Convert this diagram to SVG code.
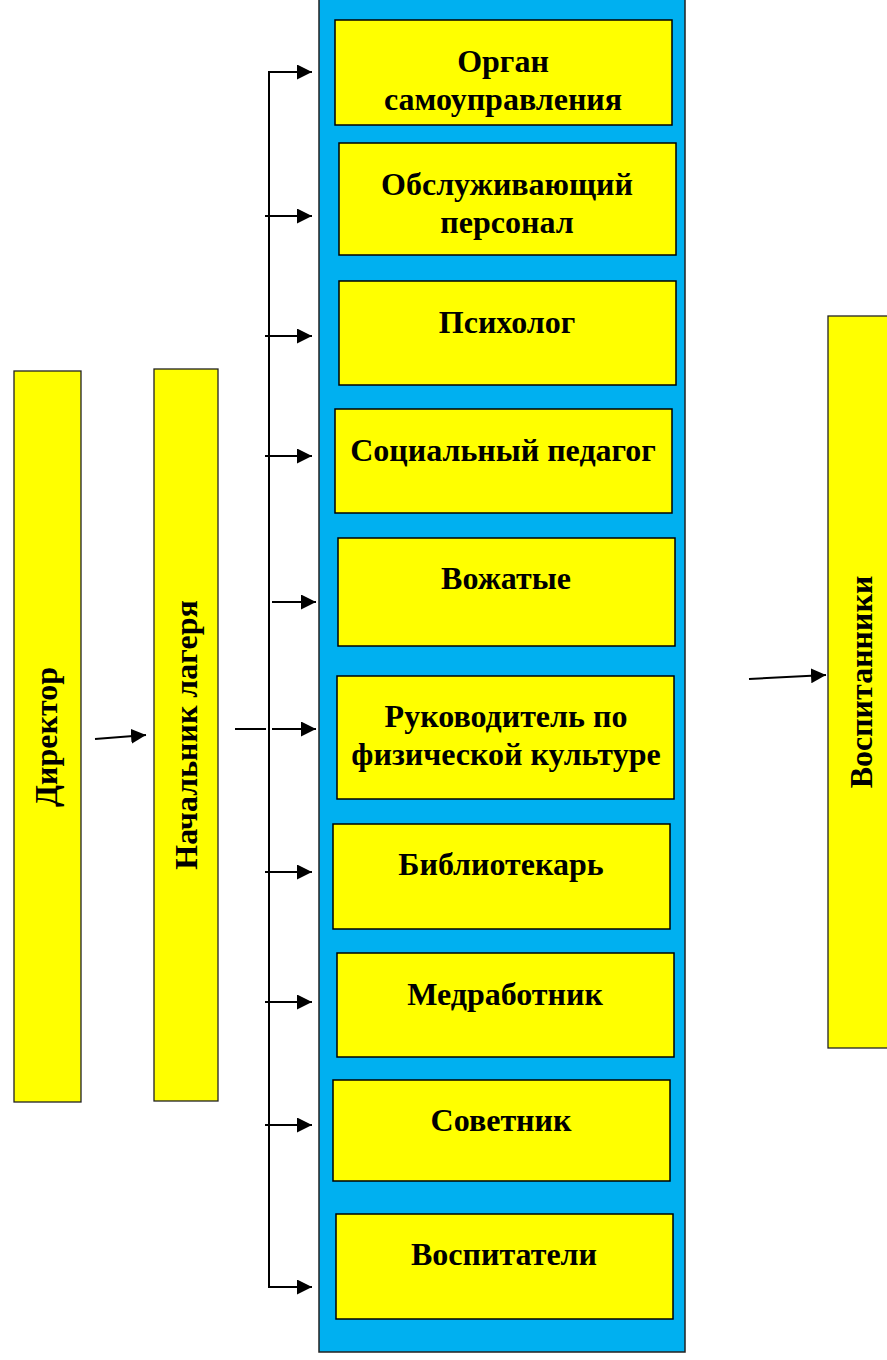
<svg xmlns="http://www.w3.org/2000/svg" width="887" height="1360" viewBox="0 0 887 1360">
<style>
.box{fill:#FFFF00;stroke:#000;stroke-width:1.5}
.side{fill:#FFFF00;stroke:#222;stroke-width:1.3}
.t{font-family:"Liberation Serif","Times New Roman",serif;font-weight:bold;font-size:32px;fill:#000;text-anchor:middle}
.c{stroke:#000;stroke-width:2;fill:none}
</style>
<defs>
<marker id="ah" viewBox="0 0 10 10" refX="10" refY="5" markerWidth="7.5" markerHeight="7.5" markerUnits="strokeWidth" orient="auto">
<path d="M0,0 L10,5 L0,10 z" fill="#000"/>
</marker>
</defs>
<rect width="887" height="1360" fill="#fff"/>
<g id="panel"><rect x="319" y="-5" width="366" height="1357" fill="#00B0F0" stroke="#222" stroke-width="1.5"/></g>
<g id="director"><rect class="side" x="14" y="371" width="67" height="731"/><text class="t" transform="translate(57,737) rotate(-90)">Директор</text></g>
<g id="head"><rect class="side" x="154" y="369" width="64" height="732"/><text class="t" transform="translate(197,735) rotate(-90)">Начальник лагеря</text></g>
<g id="pupils"><rect class="side" x="828" y="316" width="70" height="732"/><text class="t" transform="translate(872,682) rotate(-90)">Воспитанники</text></g>
<g id="n1"><rect class="box" x="335" y="20" width="337" height="105"/><text class="t" x="503" y="72">Орган</text><text class="t" x="503" y="110">самоуправления</text></g>
<g id="n2"><rect class="box" x="339" y="143" width="337" height="112"/><text class="t" x="507" y="195">Обслуживающий</text><text class="t" x="507" y="233">персонал</text></g>
<g id="n3"><rect class="box" x="339" y="281" width="337" height="104"/><text class="t" x="507" y="333">Психолог</text></g>
<g id="n4"><rect class="box" x="335" y="409" width="337" height="104"/><text class="t" x="503" y="461">Социальный педагог</text></g>
<g id="n5"><rect class="box" x="338" y="538" width="337" height="108"/><text class="t" x="506" y="589">Вожатые</text></g>
<g id="n6"><rect class="box" x="337" y="676" width="337" height="123"/><text class="t" x="506" y="727">Руководитель по</text><text class="t" x="506" y="765">физической культуре</text></g>
<g id="n7"><rect class="box" x="333" y="824" width="337" height="105"/><text class="t" x="501" y="875">Библиотекарь</text></g>
<g id="n8"><rect class="box" x="337" y="953" width="337" height="104"/><text class="t" x="505" y="1005">Медработник</text></g>
<g id="n9"><rect class="box" x="333" y="1080" width="337" height="101"/><text class="t" x="501" y="1131">Советник</text></g>
<g id="n10"><rect class="box" x="336" y="1214" width="337" height="105"/><text class="t" x="504" y="1265">Воспитатели</text></g>
<g id="connectors">
<line class="c" x1="95" y1="739" x2="146" y2="735" marker-end="url(#ah)"/>
<line class="c" x1="235" y1="729" x2="266" y2="729"/>
<line class="c" x1="749" y1="679" x2="826" y2="675" marker-end="url(#ah)"/>
<line class="c" x1="269" y1="71" x2="269" y2="1287"/>
<line class="c" x1="268" y1="72" x2="312" y2="72" marker-end="url(#ah)"/>
<line class="c" x1="265" y1="216" x2="312" y2="216" marker-end="url(#ah)"/>
<line class="c" x1="265" y1="336" x2="312" y2="336" marker-end="url(#ah)"/>
<line class="c" x1="265" y1="456" x2="312" y2="456" marker-end="url(#ah)"/>
<line class="c" x1="272" y1="602" x2="316" y2="602" marker-end="url(#ah)"/>
<line class="c" x1="272" y1="729" x2="316" y2="729" marker-end="url(#ah)"/>
<line class="c" x1="265" y1="872" x2="312" y2="872" marker-end="url(#ah)"/>
<line class="c" x1="265" y1="1002" x2="312" y2="1002" marker-end="url(#ah)"/>
<line class="c" x1="265" y1="1125" x2="312" y2="1125" marker-end="url(#ah)"/>
<line class="c" x1="268" y1="1287" x2="312" y2="1287" marker-end="url(#ah)"/>
</g>
</svg>
